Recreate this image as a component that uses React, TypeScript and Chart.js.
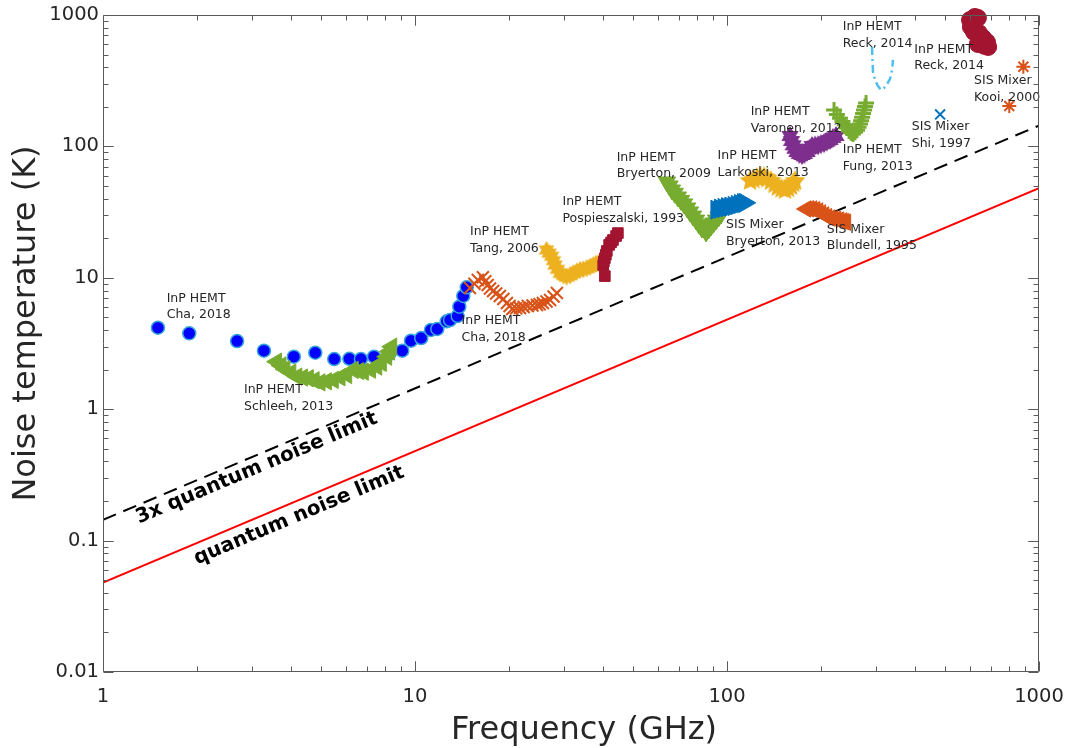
import React, { useEffect, useRef } from 'react';
import { Chart, registerables } from 'chart.js';

Chart.register(...registerables);

// ---------- data (frequency in GHz, noise temperature in K) ----------
const HK = 0.048; // quantum limit h/k in K per GHz
const limitFreq = [1, 1000];

const chaCircF = [1.5, 1.89, 2.69, 3.28, 4.09, 4.79, 5.51, 6.16, 6.71, 7.39, 8.26, 9.1, 9.71, 10.47, 11.25, 11.79, 12.64, 12.95, 13.7, 13.87, 14.28, 14.65];
const chaCircT = [4.17, 3.78, 3.3, 2.79, 2.51, 2.69, 2.41, 2.42, 2.41, 2.51, 2.63, 2.79, 3.32, 3.48, 4.01, 4.08, 4.67, 4.77, 5.12, 6.03, 7.27, 8.47];

const schleehF = [3.6, 3.72, 3.83, 4.0, 4.18, 4.36, 4.55, 4.75, 4.96, 5.2, 5.47, 5.75, 6.04, 6.34, 6.6, 6.83, 7.2, 7.54, 7.8, 8.11, 8.28, 8.42];
const schleehT = [2.3, 2.15, 2.02, 1.9, 1.77, 1.74, 1.72, 1.66, 1.6, 1.63, 1.67, 1.75, 1.82, 1.99, 1.95, 1.93, 2.0, 2.11, 2.25, 2.51, 2.75, 2.99];

const chaCrossF = [15.0, 15.5, 15.9, 16.5, 16.8, 17.1, 17.4, 17.8, 18.2, 18.7, 19.2, 19.7, 20.1, 20.5, 21.1, 21.7, 22.3, 23.0, 23.8, 24.6, 25.1, 25.7, 26.4, 27.1, 27.8, 28.5];
const chaCrossT = [8.36, 9.0, 9.62, 10.1, 9.4, 8.81, 8.3, 7.94, 7.6, 7.27, 6.9, 6.43, 6.1, 5.79, 5.85, 5.89, 6.0, 6.1, 6.15, 6.21, 6.3, 6.43, 6.6, 6.78, 7.2, 7.66];

const tangF = [26.4, 26.9, 27.4, 27.8, 28.1, 28.6, 29.2, 29.9, 30.6, 31.4, 32.2, 33.0, 33.8, 34.6, 35.5, 36.4, 37.3, 38.0, 38.7];
const tangT = [16.3, 15.4, 14.6, 13.5, 12.5, 11.6, 10.8, 10.4, 10.2, 10.4, 10.8, 11.2, 11.5, 11.6, 11.8, 12.1, 12.5, 12.8, 13.0];

const pospF = [40.6, 40.1, 40.3, 40.6, 40.9, 41.2, 41.9, 42.5, 43.1, 44.1, 44.7];
const pospT = [10.3, 12.5, 13.3, 14.1, 15.0, 16.0, 17.8, 18.6, 19.4, 20.8, 21.9];

const bry09F = [64.2, 65.4, 66.6, 68.0, 69.6, 71.2, 72.8, 74.5, 76.1, 77.8, 79.6, 81.3, 83.1, 85.7, 87.3, 88.9, 90.5, 92.2, 94.0, 95.7];
const bry09T = [53.6, 50.0, 46.6, 44.0, 41.2, 38.8, 36.5, 34.0, 31.7, 29.5, 27.5, 25.6, 23.9, 22.3, 23.5, 24.8, 26.1, 27.5, 29.0, 30.6];

const bry13F = [92.5, 95.0, 97.5, 100.0, 102.5, 105.0, 107.5, 110.0, 112.5, 114.0];
const bry13T = [33.0, 33.6, 34.0, 34.5, 34.8, 35.2, 35.8, 36.5, 37.0, 37.2];

const larkF = [118.5, 121.5, 124.8, 128.0, 131.4, 134.8, 138.4, 142.0, 145.7, 149.5, 153.4, 157.0, 160.3, 163.0, 165.2];
const larkT = [54.5, 56.0, 57.5, 58.5, 58.5, 57.0, 54.5, 51.5, 49.1, 47.5, 46.6, 48.0, 50.0, 52.5, 54.5];

const varF = [159.2, 161.0, 162.9, 165.0, 167.5, 170.5, 173.9, 177.0, 180.4, 184.0, 187.2, 191.5, 195.8, 200.0, 204.6, 209.0, 213.9, 218.5, 223.5];
const varT = [120, 110, 102, 96, 90.7, 87.5, 86, 87.5, 90.7, 96, 100.7, 101.5, 102, 104, 106, 109, 112, 116, 120];

const fungF = [220.3, 225.0, 230.3, 234.5, 238.8, 242.5, 246.1, 249.8, 253.5, 257.3, 261.1, 264.0, 266.9, 269.0, 271.0, 273.0, 275.0, 277.0, 279.1];
const fungT = [189, 175, 164, 155, 146, 138, 131, 127, 124, 128, 133, 140, 148, 157, 167, 178, 189, 201, 214];

const blunF = [179.1, 183.0, 187.2, 191.5, 195.8, 200.0, 204.6, 209.0, 213.9, 218.5, 223.5, 228.5, 233.7, 237.0, 240.5];
const blunT = [33.4, 33.5, 33.4, 33.0, 32.2, 31.2, 30.1, 29.2, 28.5, 28.1, 27.9, 27.5, 27.1, 26.8, 26.5];

const reckLineF = [291.6, 292.6, 293.7, 298.1, 304.8, 311.7, 318.7, 325.8, 333.1, 338.0, 340.5];
const reckLineT = [571, 455, 368, 320, 288, 269, 278, 298, 326, 381, 455];

const reckCircF = [601, 623, 637, 605, 619, 642, 662, 681, 687, 667, 637];
const reckCircT = [916, 966, 950, 810, 743, 729, 668, 623, 571, 583, 601];

const kooiF = [891, 803];
const kooiT = [404, 203];

const shiF = [482];
const shiT = [175];

// text labels
const labelTop = ['InP HEMT', 'InP HEMT', 'InP HEMT', 'InP HEMT', 'InP HEMT', 'InP HEMT', 'InP HEMT', 'SIS Mixer', 'SIS Mixer', 'InP HEMT', 'InP HEMT', 'InP HEMT', 'InP HEMT', 'SIS Mixer', 'SIS Mixer'];
const labelBottom = ['Cha, 2018', 'Schleeh, 2013', 'Cha, 2018', 'Tang, 2006', 'Pospieszalski, 1993', 'Bryerton, 2009', 'Larkoski, 2013', 'Bryerton, 2013', 'Blundell, 1995', 'Varonen, 2012', 'Fung, 2013', 'Reck, 2014', 'Reck, 2014', 'Kooi, 2000', 'Shi, 1997'];
const labelF = [1.6, 2.83, 14.1, 15.0, 29.7, 44.3, 93.3, 99.3, 208.8, 119.1, 234.9, 234.9, 398.4, 619, 391];
const labelT = [6.98, 1.4, 4.69, 22.4, 37.6, 82.6, 84.5, 25.2, 23.4, 184, 93.9, 814, 548, 316, 141];

const limitLabels = ['3x quantum noise limit', 'quantum noise limit'];
const limitLabelF = [3.11, 4.25];
const limitLabelT = [0.355, 0.1546];

const xTickValues = [1, 10, 100, 1000];
const yTickValues = [0.01, 0.1, 1, 10, 100, 1000];

// ---------- helpers ----------
const FONT = '"DejaVu Sans", Verdana, sans-serif';
const pts = (f: number[], t: number[]) => f.map((v, i) => ({ x: v, y: t[i] }));

function starCanvas(n: number, rOut: number, rIn: number, color: string): HTMLCanvasElement {
  const size = Math.ceil(rOut * 2 + 2);
  const c = document.createElement('canvas');
  c.width = size;
  c.height = size;
  const ctx = c.getContext('2d')!;
  ctx.translate(size / 2, size / 2);
  ctx.beginPath();
  for (let i = 0; i < 2 * n; i++) {
    const r = i % 2 === 0 ? rOut : rIn;
    const a = -Math.PI / 2 + (i * Math.PI) / n;
    ctx.lineTo(r * Math.cos(a), r * Math.sin(a));
  }
  ctx.closePath();
  ctx.fillStyle = color;
  ctx.fill();
  return c;
}

const isDecade = (v: number) => Math.abs(Math.log10(v) - Math.round(Math.log10(v))) < 1e-6;
const fmtTick = (v: any) => {
  const n = Number(v);
  if (!isDecade(n)) return '';
  return String(Number(n.toPrecision(6)));
};

const decorPlugin = {
  id: 'decor',
  afterDatasetsDraw(chart: any) {
    const { ctx, chartArea: a, scales } = chart;
    const xs = scales.x;
    const ys = scales.y;
    ctx.save();

    // annotation texts
    ctx.font = `12.5px ${FONT}`;
    ctx.fillStyle = '#262626';
    ctx.textAlign = 'left';
    ctx.textBaseline = 'middle';
    labelTop.forEach((t, i) => {
      const px = xs.getPixelForValue(labelF[i]);
      const py = ys.getPixelForValue(labelT[i]);
      ctx.fillText(t, px, py);
      ctx.fillText(labelBottom[i], px, py + 16.7);
    });

    // rotated limit labels
    const ang = Math.atan2(
      ys.getPixelForValue(HK * limitFreq[1]) - ys.getPixelForValue(HK * limitFreq[0]),
      xs.getPixelForValue(limitFreq[1]) - xs.getPixelForValue(limitFreq[0])
    );
    ctx.font = `bold 20px ${FONT}`;
    ctx.fillStyle = '#000';
    ctx.textAlign = 'center';
    limitLabels.forEach((t, i) => {
      ctx.save();
      ctx.translate(xs.getPixelForValue(limitLabelF[i]), ys.getPixelForValue(limitLabelT[i]));
      ctx.rotate(ang);
      ctx.fillText(t, 0, 0);
      ctx.restore();
    });

    // box and inward ticks
    ctx.strokeStyle = '#5a5a5a';
    ctx.lineWidth = 1;
    const L = Math.round(a.left) + 0.5;
    const R = Math.round(a.right) - 0.5;
    const T = Math.round(a.top) + 0.5;
    const B = Math.round(a.bottom) - 0.5;
    ctx.beginPath();
    ctx.rect(L, T, R - L, B - T);
    for (let d = 1; d < 1000; d *= 10) {
      for (let m = 1; m <= 10; m++) {
        const v = d * m;
        const px = Math.round(xs.getPixelForValue(v)) + 0.5;
        const len = m === 1 || m === 10 ? 10 : 5;
        ctx.moveTo(px, B);
        ctx.lineTo(px, B - len);
        ctx.moveTo(px, T);
        ctx.lineTo(px, T + len);
      }
    }
    for (let d = 0.01; d < 999; d *= 10) {
      for (let m = 1; m <= 10; m++) {
        const v = d * m;
        const py = Math.round(ys.getPixelForValue(v)) + 0.5;
        const len = m === 1 || m === 10 ? 10 : 5;
        ctx.moveTo(L, py);
        ctx.lineTo(L + len, py);
        ctx.moveTo(R, py);
        ctx.lineTo(R - len, py);
      }
    }
    ctx.stroke();

    // axis titles
    ctx.fillStyle = '#262626';
    ctx.font = `32px ${FONT}`;
    ctx.textAlign = 'center';
    ctx.textBaseline = 'alphabetic';
    ctx.fillText('Frequency (GHz)', (a.left + a.right) / 2 + 13, a.bottom + 67);
    ctx.save();
    ctx.translate(a.left - 68, (a.top + a.bottom) / 2 - 20);
    ctx.rotate(-Math.PI / 2);
    ctx.fillText('Noise temperature (K)', 0, 0);
    ctx.restore();

    ctx.restore();
  },
};

export default function App() {
  const ref = useRef<HTMLCanvasElement>(null);

  useEffect(() => {
    const canvas = ref.current;
    if (!canvas) return;

    const blue = '#0072BD';
    const orange = '#D95319';
    const yellow = '#EDB120';
    const purple = '#7E2F8E';
    const green = '#77AC30';
    const lblue = '#4DBEEE';
    const crimson = '#A2142F';

    const hexYellow = starCanvas(6, 9, 5.2, yellow);
    const pentYellow = starCanvas(5, 11, 5, yellow);
    const hexPurple = starCanvas(6, 10, 5.8, purple);

    const scatter = (data: any, extra: any) => ({
      data,
      showLine: false,
      clip: false,
      ...extra,
    });

    const datasets: any[] = [
      {
        data: pts(limitFreq, limitFreq.map((f) => HK * f)),
        showLine: true,
        borderColor: '#ff0000',
        borderWidth: 2,
        pointRadius: 0,
      },
      {
        data: pts(limitFreq, limitFreq.map((f) => 3 * HK * f)),
        showLine: true,
        borderColor: '#000000',
        borderWidth: 2,
        borderDash: [14, 8],
        pointRadius: 0,
      },
      scatter(pts(chaCircF, chaCircT), {
        pointStyle: 'circle', pointRadius: 6.5, backgroundColor: '#0000FF', borderColor: '#3aa6d8', borderWidth: 1.5,
      }),
      scatter(pts(schleehF, schleehT), {
        pointStyle: 'triangle', pointRotation: -90, pointRadius: 10, backgroundColor: green, borderColor: green, borderWidth: 1,
      }),
      scatter(pts(chaCrossF, chaCrossT), {
        pointStyle: 'crossRot', pointRadius: 8.5, borderColor: orange, borderWidth: 2,
      }),
      scatter(pts(tangF, tangT), { pointStyle: hexYellow }),
      scatter(pts(pospF, pospT), {
        pointStyle: 'rect', pointRadius: 7.5, backgroundColor: crimson, borderColor: crimson, borderWidth: 1,
      }),
      scatter(pts(bry09F, bry09T), {
        pointStyle: 'triangle', pointRotation: 180, pointRadius: 10, backgroundColor: green, borderColor: green, borderWidth: 1,
      }),
      scatter(pts(bry13F, bry13T), {
        pointStyle: 'triangle', pointRotation: 90, pointRadius: 11, backgroundColor: blue, borderColor: blue, borderWidth: 1,
      }),
      scatter(pts(larkF, larkT), { pointStyle: pentYellow }),
      scatter(pts(varF, varT), { pointStyle: hexPurple }),
      scatter(pts(fungF, fungT), {
        pointStyle: 'cross', pointRadius: 8, borderColor: green, borderWidth: 3,
      }),
      scatter(pts(blunF, blunT), {
        pointStyle: 'triangle', pointRotation: -90, pointRadius: 9.5, backgroundColor: orange, borderColor: orange, borderWidth: 1,
      }),
      {
        data: pts(reckLineF, reckLineT),
        showLine: true,
        borderColor: lblue,
        borderWidth: 2.5,
        borderDash: [8, 4, 2, 4],
        pointRadius: 0,
        clip: false,
      },
      scatter(pts(reckCircF, reckCircT), {
        pointStyle: 'circle', pointRadius: 8.5, backgroundColor: crimson, borderColor: crimson, borderWidth: 1,
      }),
      scatter(pts(kooiF, kooiT), {
        pointStyle: 'star', pointRadius: 7, borderColor: orange, borderWidth: 2,
      }),
      scatter(pts(shiF, shiT), {
        pointStyle: 'crossRot', pointRadius: 7, borderColor: blue, borderWidth: 2,
      }),
    ];
    datasets.forEach((d, i) => {
      d.order = -i;
    });

    const tickFont = { family: FONT, size: 19.5 };

    const chart = new Chart(canvas, {
      type: 'scatter',
      data: { datasets },
      options: {
        animation: false,
        responsive: false,
        events: [],
        layout: { padding: { left: 0, right: 33, top: 15, bottom: 0 } },
        plugins: { legend: { display: false }, tooltip: { enabled: false } },
        scales: {
          x: {
            type: 'logarithmic',
            position: 'bottom',
            min: xTickValues[0],
            max: xTickValues[xTickValues.length - 1],
            grid: { display: false, drawTicks: false },
            border: { display: false },
            ticks: {
              autoSkip: false,
              maxRotation: 0,
              minRotation: 0,
              padding: 13,
              color: '#262626',
              font: tickFont,
              callback: fmtTick,
            },
            afterFit: (s: any) => {
              s.height = 76;
              s.paddingLeft = 0;
              s.paddingRight = 0;
            },
          },
          y: {
            type: 'logarithmic',
            position: 'left',
            min: yTickValues[0],
            max: yTickValues[yTickValues.length - 1],
            grid: { display: false, drawTicks: false },
            border: { display: false },
            ticks: {
              autoSkip: false,
              padding: 4,
              color: '#262626',
              font: tickFont,
              callback: fmtTick,
            },
            afterFit: (s: any) => {
              s.width = 103;
              s.paddingTop = 0;
              s.paddingBottom = 0;
            },
          },
        },
      } as any,
      plugins: [decorPlugin],
    });

    return () => chart.destroy();
  }, []);

  return (
    <div style={{ position: 'fixed', left: 0, top: 0, width: 1072, height: 748, background: '#fff' }}>
      <canvas ref={ref} width={1072} height={748} style={{ display: 'block' }} />
    </div>
  );
}
